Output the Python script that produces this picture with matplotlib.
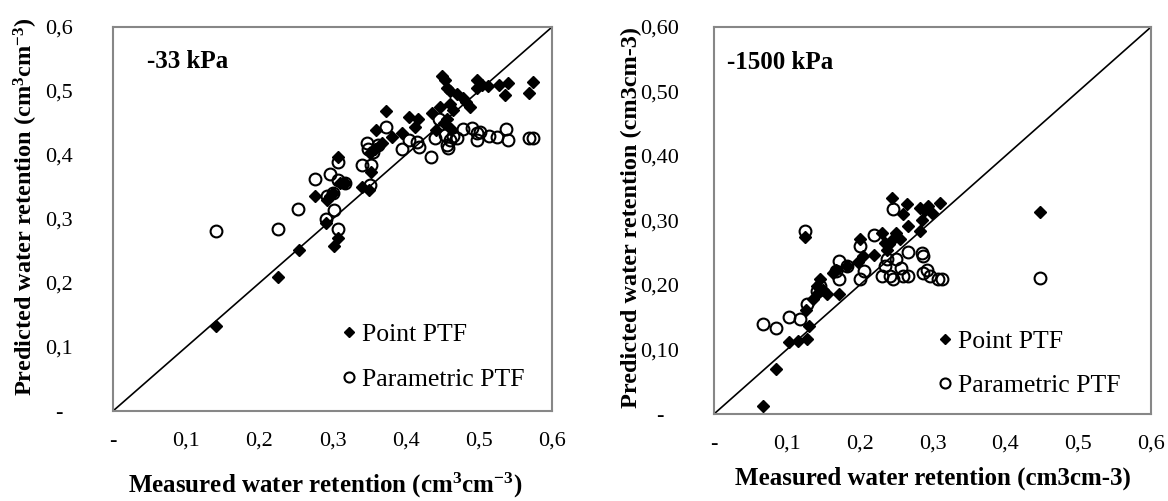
import matplotlib
matplotlib.use("Agg")
import matplotlib.pyplot as plt

# ---------------- data ----------------
# -33 kPa panel
pt33_x = [0.141, 0.226, 0.254, 0.302, 0.307, 0.291, 0.276, 0.292, 0.296, 0.301, 0.310, 0.317, 0.308,
          0.340, 0.350, 0.352, 0.351, 0.358, 0.360, 0.367, 0.382, 0.373, 0.395, 0.404, 0.417, 0.413,
          0.436, 0.447, 0.449, 0.454, 0.456, 0.460, 0.470, 0.479, 0.483, 0.488, 0.460, 0.465, 0.456,
          0.452, 0.442, 0.462, 0.497, 0.497, 0.504, 0.513, 0.527, 0.540, 0.536, 0.568, 0.574]
pt33_y = [0.133, 0.210, 0.251, 0.258, 0.270, 0.293, 0.336, 0.330, 0.336, 0.341, 0.356, 0.357, 0.397,
          0.350, 0.345, 0.374, 0.403, 0.410, 0.439, 0.418, 0.428, 0.468, 0.434, 0.460, 0.456, 0.444,
          0.465, 0.475, 0.523, 0.517, 0.504, 0.500, 0.496, 0.489, 0.483, 0.475, 0.480, 0.470, 0.457,
          0.450, 0.439, 0.441, 0.517, 0.504, 0.509, 0.508, 0.510, 0.513, 0.494, 0.497, 0.514]
par33_x = [0.141, 0.226, 0.253, 0.276, 0.297, 0.308, 0.317, 0.301, 0.292, 0.302, 0.291, 0.307, 0.308,
           0.340, 0.352, 0.351, 0.347, 0.349, 0.355, 0.362, 0.373, 0.395, 0.404, 0.415, 0.418, 0.435,
           0.440, 0.445, 0.454, 0.456, 0.458, 0.460, 0.465, 0.470, 0.479, 0.490, 0.498, 0.497, 0.502,
           0.514, 0.525, 0.537, 0.540, 0.568, 0.574]
par33_y = [0.281, 0.284, 0.315, 0.362, 0.371, 0.361, 0.357, 0.341, 0.336, 0.314, 0.300, 0.285, 0.389,
           0.384, 0.384, 0.353, 0.418, 0.410, 0.405, 0.416, 0.443, 0.409, 0.424, 0.421, 0.412, 0.397,
           0.426, 0.456, 0.431, 0.416, 0.411, 0.423, 0.429, 0.426, 0.440, 0.442, 0.434, 0.423, 0.436,
           0.430, 0.428, 0.441, 0.423, 0.426, 0.426]

# -1500 kPa panel
pt1500_x = [0.067, 0.085, 0.103, 0.116, 0.128, 0.131, 0.125, 0.127, 0.136, 0.143, 0.146, 0.142, 0.150,
            0.155, 0.172, 0.164, 0.168, 0.182, 0.200, 0.205, 0.198, 0.219, 0.230, 0.235, 0.237, 0.240,
            0.244, 0.246, 0.250, 0.255, 0.259, 0.265, 0.267, 0.283, 0.283, 0.285, 0.290, 0.294, 0.299,
            0.310, 0.448]
pt1500_y = [0.012, 0.069, 0.112, 0.113, 0.117, 0.137, 0.275, 0.162, 0.178, 0.188, 0.209, 0.199, 0.193,
            0.186, 0.186, 0.219, 0.224, 0.229, 0.271, 0.245, 0.235, 0.247, 0.281, 0.265, 0.255, 0.263,
            0.335, 0.271, 0.281, 0.271, 0.310, 0.325, 0.292, 0.283, 0.319, 0.301, 0.317, 0.322, 0.312,
            0.327, 0.313]
par1500_x = [0.067, 0.085, 0.103, 0.118, 0.125, 0.128, 0.142, 0.146, 0.168, 0.172, 0.182, 0.172, 0.200,
             0.200, 0.206, 0.219, 0.230, 0.235, 0.237, 0.241, 0.246, 0.246, 0.250, 0.257, 0.259, 0.267,
             0.266, 0.285, 0.287, 0.287, 0.292, 0.296, 0.308, 0.313, 0.448]
par1500_y = [0.139, 0.133, 0.150, 0.147, 0.283, 0.170, 0.190, 0.199, 0.222, 0.237, 0.229, 0.210, 0.209,
             0.260, 0.222, 0.278, 0.214, 0.229, 0.240, 0.214, 0.209, 0.318, 0.240, 0.226, 0.214, 0.214,
             0.251, 0.250, 0.245, 0.218, 0.223, 0.214, 0.210, 0.209, 0.211]

ticks = [0, 0.1, 0.2, 0.3, 0.4, 0.5, 0.6]
xtick_labels = ['-', '0,1', '0,2', '0,3', '0,4', '0,5', '0,6']
ytick_labels_left = ['-', '0,1', '0,2', '0,3', '0,4', '0,5', '0,6']
ytick_labels_right = ['-', '0,10', '0,20', '0,30', '0,40', '0,50', '0,60']
series_labels = ['Point PTF', 'Parametric PTF']

# ---------------- style ----------------
plt.rcParams['font.family'] = ['Liberation Serif', 'DejaVu Serif']
plt.rcParams['mathtext.fontset'] = 'custom'
plt.rcParams['mathtext.rm'] = 'Liberation Serif:bold'
plt.rcParams['mathtext.it'] = 'Liberation Serif:bold'
plt.rcParams['mathtext.bf'] = 'Liberation Serif:bold'

SPINE = '#878787'

fig = plt.figure(figsize=(11.68, 5.01), dpi=100)
ax1 = fig.add_axes([113 / 1168, (501 - 411) / 501, 439 / 1168, 384 / 501])
ax2 = fig.add_axes([714 / 1168, (501 - 414) / 501, 437 / 1168, 387 / 501])


def draw(ax, px, py, cx, cy, ylabels, title, xlabel, ylabel, title_xy, ylab_xy, xlab_xy, leg_anchor):
    ax.set_xlim(0, 0.6)
    ax.set_ylim(0, 0.6)
    ax.plot([0, 0.6], [0, 0.6], color='black', lw=1.2, zorder=1)
    h1, = ax.plot(px, py, linestyle='none', marker='D', markersize=6.5, color='black',
                  markeredgecolor='black', zorder=3, label=series_labels[0])
    h2, = ax.plot(cx, cy, linestyle='none', marker='o', markersize=8.5, markerfacecolor='none',
                  markeredgecolor='black', markeredgewidth=1.5, zorder=2, label=series_labels[1])
    ax.set_xticks(ticks)
    ax.set_xticklabels(xtick_labels, fontsize=16)
    ax.set_yticks(ticks)
    ax.set_yticklabels(ylabels, fontsize=16)
    ax.tick_params(axis='both', length=0)
    ax.tick_params(axis='y', pad=39)
    ax.tick_params(axis='x', pad=15)
    for lab in ax.get_yticklabels():
        lab.set_horizontalalignment('center')
    for s in ax.spines.values():
        s.set_color(SPINE)
        s.set_linewidth(1.5)
    ax.text(title_xy[0], title_xy[1], title, transform=ax.transAxes, fontsize=18,
            fontweight='bold', ha='left', va='center')
    ax.set_xlabel(xlabel, fontsize=18, fontweight='bold')
    ax.set_ylabel(ylabel, fontsize=17.5, fontweight='bold')
    ax.xaxis.set_label_coords(*xlab_xy)
    ax.yaxis.set_label_coords(*ylab_xy)
    ax.legend(handles=[h1, h2], loc='upper left', bbox_to_anchor=leg_anchor, frameon=False,
              fontsize=18.5, handlelength=0.5, handletextpad=0.26, labelspacing=0.85,
              markerscale=0.85, borderaxespad=0, borderpad=0)


draw(ax1, pt33_x, pt33_y, par33_x, par33_y, ytick_labels_left, '-33 kPa',
     'Measured water retention (cm$^{3}$cm$^{-3}$)',
     'Predicted water retention (cm$^{3}$cm$^{-3}$)',
     (0.077, 0.909), (-0.166, 0.531), (0.483, -0.155), (0.522, 0.228))
draw(ax2, pt1500_x, pt1500_y, par1500_x, par1500_y, ytick_labels_right, '-1500 kPa',
     'Measured water retention (cm3cm-3)',
     'Predicted water retention (cm3cm-3)',
     (0.03, 0.907), (-0.165, 0.509), (0.50, -0.135), (0.513, 0.218))

fig.savefig('out.png', dpi=100, facecolor='white')
